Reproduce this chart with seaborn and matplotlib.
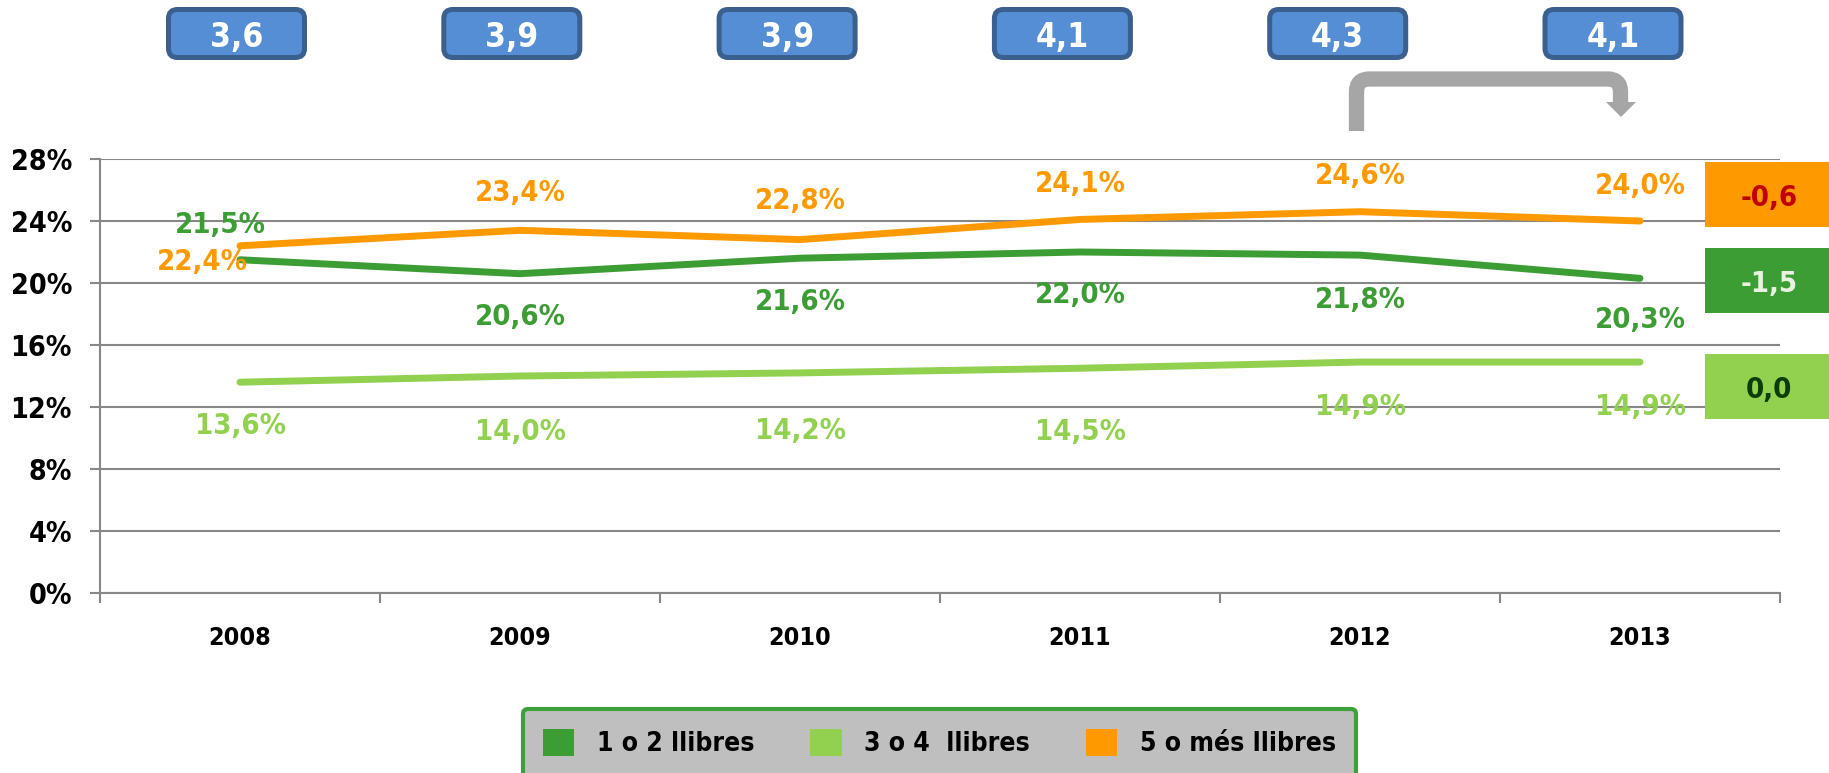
import matplotlib
matplotlib.use('Agg')
import matplotlib.pyplot as plt
from matplotlib.patches import FancyBboxPatch, Rectangle, Polygon, PathPatch, Patch
from matplotlib.path import Path
import numpy as np
import pandas as pd
import seaborn as sns

# dades
anys = ['2008', '2009', '2010', '2011', '2012', '2013']
llibres_1_2 = [21.5, 20.6, 21.6, 22.0, 21.8, 20.3]
llibres_3_4 = [13.6, 14.0, 14.2, 14.5, 14.9, 14.9]
llibres_5_mes = [22.4, 23.4, 22.8, 24.1, 24.6, 24.0]
mitjana = [3.6, 3.9, 3.9, 4.1, 4.3, 4.1]
series = ['1 o 2 llibres', '3 o 4  llibres', '5 o més llibres']
variacio = [-1.5, 0.0, -0.6]

colors = ['#3c9d34', '#92d050', '#ff9900']
W, H = 1829, 773
FONT = ['DejaVu Sans']
GRID = '#878787'


def fmt(v, pct=True):
    s = f"{v:.1f}".replace('.', ',')
    return s + '%' if pct else s


sns.set_theme(style='white')
plt.rcParams['font.family'] = FONT
plt.rcParams['font.stretch'] = 'condensed'
plt.rcParams['font.weight'] = 'bold'
plt.rcParams['text.color'] = 'black'
plt.rcParams['xtick.color'] = 'black'
plt.rcParams['ytick.color'] = 'black'

df = pd.DataFrame({
    'any': anys * 3,
    'valor': llibres_1_2 + llibres_3_4 + llibres_5_mes,
    'serie': np.repeat(series, len(anys)),
})

fig = plt.figure(figsize=(W / 100, H / 100), dpi=100)
ax = fig.add_axes([100 / W, 180 / H, 1680 / W, 434 / H])
sns.lineplot(data=df, x='any', y='valor', hue='serie', palette=colors,
             lw=5, legend=False, ax=ax, sort=False, solid_capstyle='round')

# etiquetes de dades (desplaçaments en punts percentuals)
offsets = [
    [(-0.07, 2.45), (0, -2.6), (0, -2.65), (0, -2.6), (0, -2.7), (0, -2.5)],
    [(0, -2.6), (0, -3.4), (0, -3.55), (0, -3.9), (0, -2.7), (0, -2.7)],
    [(-0.135, -0.85), (0, 2.6), (0, 2.7), (0, 2.45), (0, 2.5), (0, 2.45)],
]
for vals, col, offs in zip([llibres_1_2, llibres_3_4, llibres_5_mes], colors, offsets):
    for i, v in enumerate(vals):
        dx, dy = offs[i]
        ax.text(i + dx, v + dy, fmt(v), color=col, fontsize=21,
                ha='center', va='center_baseline', fontweight='bold')

ax.set_xlim(-0.5, 5.5)
ax.set_ylim(0, 28)
ax.set_yticks(range(0, 29, 4))
ax.set_yticklabels([f"{t}%" for t in range(0, 29, 4)])
ax.set_xticks(range(len(anys)))
ax.set_xticklabels(anys)
ax.set_xticks(np.arange(-0.5, len(anys), 1), minor=True)
ax.set_xlabel('')
ax.set_ylabel('')
ax.tick_params(axis='x', which='major', length=0, pad=24, labelsize=18, bottom=True)
ax.tick_params(axis='x', which='minor', length=7.2, width=1.5, color=GRID,
               direction='out', bottom=True)
ax.tick_params(axis='y', length=7.2, width=1.5, color=GRID, pad=13,
               labelsize=20.5, left=True, direction='out')
ax.grid(axis='y', color=GRID, lw=1.5)
for s in ['top', 'right']:
    ax.spines[s].set_visible(False)
for s in ['left', 'bottom']:
    ax.spines[s].set_color(GRID)
    ax.spines[s].set_linewidth(1.5)

# capa de decoració en píxels
ov = fig.add_axes([0, 0, 1, 1])
ov.set_xlim(0, W)
ov.set_ylim(H, 0)
ov.axis('off')


def px(i):
    return ax.transData.transform((i, 0))[0]


for i, v in enumerate(mitjana):
    cx = px(i) - 3.5 - 4.7 * i
    ov.add_patch(FancyBboxPatch((cx - 68, 9.5), 136, 48,
                                boxstyle='round,pad=0,rounding_size=9',
                                fc='#558ed5', ec='#3b6090', lw=3.6))
    ov.text(cx, 47.5, fmt(v, False), color='white', fontsize=24,
            ha='center', va='baseline', fontweight='bold')

# fletxa 2012 -> 2013
verts = [(1356.5, 131), (1356.5, 92), (1356.5, 79), (1369.5, 79),
         (1607.5, 79), (1620.5, 79), (1620.5, 92), (1620.5, 103)]
codes = [Path.MOVETO, Path.LINETO, Path.CURVE3, Path.CURVE3,
         Path.LINETO, Path.CURVE3, Path.CURVE3, Path.LINETO]
ov.add_patch(PathPatch(Path(verts, codes), fc='none', ec='#a6a6a6',
                       lw=11, capstyle='butt', joinstyle='miter'))
ov.add_patch(Polygon([(1606, 102), (1636, 102), (1621, 117)],
                     closed=True, fc='#a6a6a6', ec='none'))

# caixes de variació
box_y = [248, 354, 162]
txt_col = ['#eaf1e2', '#0b3d0b', '#c00000']
for v, col, y0, tc in zip(variacio, colors, box_y, txt_col):
    ov.add_patch(Rectangle((1705, y0), 130, 65, fc=col, ec='none'))
    ov.text(1769, y0 + 33, fmt(v, False), color=tc, fontsize=21,
            ha='center', va='center_baseline', fontweight='bold')

handles = [Patch(fc=c, ec='none') for c in colors]
leg = fig.legend(handles, series, ncol=3, loc='upper left',
                 bbox_to_anchor=(523 / W, 1 - 709 / H),
                 prop={'size': 19, 'weight': 'bold', 'family': FONT, 'stretch': 'condensed'},
                 frameon=True, fancybox=True, facecolor='#bfbfbf',
                 edgecolor='#3ea03a', framealpha=1, handlelength=1.2,
                 handleheight=1.2, borderpad=0.75, handletextpad=0.86,
                 columnspacing=2.1, borderaxespad=0)
leg.get_frame().set_linewidth(3)

fig.savefig('out.png', dpi=100)
